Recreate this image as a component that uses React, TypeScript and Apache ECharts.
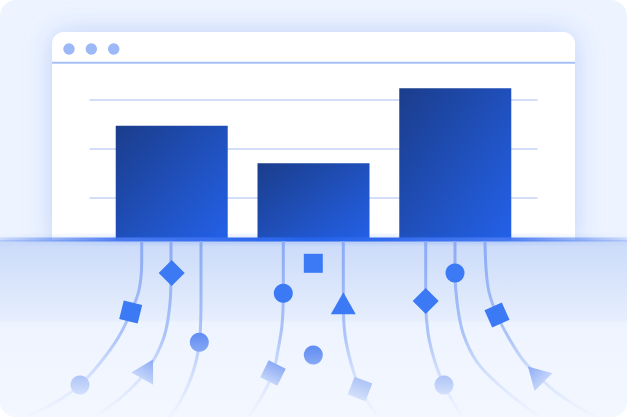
import React, { useRef, useEffect } from 'react';
import * as echarts from 'echarts';

// bar chart inside the browser window
const barCategories = ['A', 'B', 'C'];
const barValues = [2.47, 1.7, 3.24];
const yMax = 3;
const yInterval = 1;

// flow lines under the baseline, [x, y] in page pixels
const flowLines: number[][][] = [
  [[141.7, 241], [141.7, 262], [139, 290], [131, 312], [118, 338], [100, 363], [80, 385], [56, 402], [28, 416]],
  [[171, 241], [171, 273], [170, 303], [164, 337], [148, 369], [124, 395], [96, 416]],
  [[201, 241], [201, 300], [199.5, 342], [193, 372], [181, 400], [169, 418]],
  [[283.3, 241], [283.3, 293], [282, 325], [278, 350], [273, 373], [262, 396], [249, 416]],
  [[313.3, 241], [313.3, 418]],
  [[343.3, 241], [343.3, 303], [345, 335], [351, 363], [360, 389], [377, 415]],
  [[425.7, 241], [425.7, 301], [428, 333], [435, 362], [444, 385], [453, 402], [462, 416]],
  [[455, 241], [455, 273], [457, 302], [463, 333], [477, 362], [500, 386], [538, 416]],
  [[485, 241], [486, 268], [489, 292], [497, 315], [510, 340], [523, 360], [536, 374], [557, 393], [595, 417]],
];

// markers: x, y, rotate, tone
const squareMarkers: [number, number, number, string][] = [
  [130.7, 312, -14, 'solid'],
  [313.3, 263.3, 0, 'solid'],
  [497, 315, 24, 'solid'],
  [273, 373, -26, 'soft'],
  [360, 389, -21, 'faint'],
];
const diamondMarkers: [number, number, number, string][] = [
  [171.7, 273, 0, 'solid'],
  [425.7, 301, 0, 'solid'],
];
const circleMarkers: [number, number, number, string][] = [
  [283.3, 293.3, 0, 'solid'],
  [455, 273, 0, 'solid'],
  [199.3, 342.3, 0, 'mid'],
  [313.3, 355, 0, 'mid'],
  [444, 385, 0, 'faint'],
  [80, 385, 0, 'faint'],
];
const triangleMarkers: [number, number, number, string][] = [
  [343.3, 303.3, 0, 'solid'],
  [147.6, 369, -29, 'soft'],
  [535.7, 374.3, 45, 'soft'],
];

const tones: Record<string, [string, string]> = {
  solid: ['#3b7af4', '#3b7af4'],
  mid: ['#5f8cf3', '#87a8f5'],
  soft: ['#8caaf5', '#c4d5fa'],
  faint: ['#aec4f7', '#d3e0fb'],
};

const windowDots = [69, 91.3, 113.7];

const vGrad = (c: [string, string]) =>
  new echarts.graphic.LinearGradient(0, 0, 0, 1, [
    { offset: 0, color: c[0] },
    { offset: 1, color: c[1] },
  ]);

const markerSeries = (
  list: [number, number, number, string][],
  symbol: string,
  size: number | number[]
) => ({
  type: 'scatter',
  xAxisIndex: 1,
  yAxisIndex: 1,
  z: 13,
  symbol,
  silent: true,
  data: list.map(([x, y, rot, tone]) => ({
    value: [x, y],
    symbolSize: size,
    symbolRotate: rot,
    itemStyle: { color: vGrad(tones[tone]), opacity: 1 },
  })),
});

export default function App() {
  const chartRef = useRef<HTMLDivElement>(null);

  useEffect(() => {
    if (!chartRef.current) return;
    document.body.style.margin = '0';
    const chart = echarts.init(chartRef.current, null, { renderer: 'svg' });

    const lineSeries = flowLines.map((pts) => ({
      type: 'line',
      xAxisIndex: 1,
      yAxisIndex: 1,
      z: 12,
      smooth: 0.35,
      showSymbol: false,
      silent: true,
      data: pts,
      lineStyle: {
        width: 3,
        color: new echarts.graphic.LinearGradient(0, 0, 0, 1, [
          { offset: 0, color: 'rgba(137,168,245,0.95)' },
          { offset: 0.55, color: 'rgba(150,180,247,0.75)' },
          { offset: 1, color: 'rgba(190,210,250,0.05)' },
        ]),
      },
    }));

    const option: echarts.EChartsOption = {
      animation: false,
      graphic: [
        {
          type: 'rect',
          z: 0,
          shape: { x: 0, y: 0, width: 627, height: 417, r: 16 },
          style: { fill: '#eef4ff' },
        },
        {
          type: 'rect',
          z: 1,
          shape: { x: 52, y: 32, width: 523, height: 214, r: [12, 12, 0, 0] },
          style: { fill: '#ffffff', shadowBlur: 28, shadowColor: 'rgba(64,116,236,0.28)' },
        },
        {
          type: 'line',
          z: 2,
          shape: { x1: 52, y1: 62.7, x2: 575, y2: 62.7 },
          style: { stroke: '#a6bff6', lineWidth: 2 },
        },
        ...windowDots.map((cx) => ({
          type: 'circle',
          z: 2,
          shape: { cx, cy: 49, r: 5.7 },
          style: { fill: '#9db8f6' },
        })),
        {
          type: 'rect',
          z: 10,
          shape: { x: 0, y: 240, width: 627, height: 177, r: [0, 0, 16, 16] },
          style: {
            fill: new echarts.graphic.LinearGradient(0, 0, 0, 1, [
              { offset: 0, color: '#cadaf9' },
              { offset: 0.45, color: '#e6eefd' },
              { offset: 0.47, color: '#eef4ff' },
              { offset: 1, color: '#f3f7ff' },
            ]),
          },
        },
        {
          type: 'rect',
          z: 11,
          shape: { x: 0, y: 237.5, width: 627, height: 4 },
          style: {
            fill: new echarts.graphic.LinearGradient(0, 0, 1, 0, [
              { offset: 0, color: 'rgba(80,125,240,0.2)' },
              { offset: 0.2, color: '#4679f1' },
              { offset: 0.5, color: '#2563eb' },
              { offset: 0.8, color: '#4679f1' },
              { offset: 1, color: 'rgba(80,125,240,0.2)' },
            ]),
            shadowBlur: 6,
            shadowColor: 'rgba(37,99,235,0.3)',
          },
        },
      ] as any,
      grid: [
        { left: 89.5, top: 100, width: 448, height: 146 },
        { left: 0, top: 0, width: 632, height: 420 },
      ],
      xAxis: [
        { type: 'value', gridIndex: 0, min: -0.58, max: 2.58, show: false },
        { type: 'value', gridIndex: 1, min: 0, max: 632, show: false },
      ],
      yAxis: [
        {
          type: 'value',
          gridIndex: 0,
          min: 0,
          max: yMax,
          interval: yInterval,
          z: 3,
          axisLine: { show: false },
          axisTick: { show: false },
          axisLabel: { show: false },
          splitLine: { lineStyle: { color: '#d3dff8', width: 2 } },
        },
        { type: 'value', gridIndex: 1, min: 0, max: 420, inverse: true, show: false },
      ],
      series: [
        {
          type: 'bar',
          name: 'bars',
          xAxisIndex: 0,
          yAxisIndex: 0,
          z: 4,
          clip: false,
          barWidth: 112,
          silent: true,
          data: barValues.map((v, i) => ({ value: [i, v], name: barCategories[i] })),
          itemStyle: {
            color: new echarts.graphic.LinearGradient(0, 0, 1, 1, [
              { offset: 0, color: '#1b3d8b' },
              { offset: 1, color: '#2462eb' },
            ]),
          },
        },
        ...lineSeries,
        markerSeries(squareMarkers, 'rect', 19),
        markerSeries(diamondMarkers, 'diamond', 26),
        markerSeries(circleMarkers, 'circle', 19),
        markerSeries(triangleMarkers, 'triangle', [25, 22]),
      ] as any,
    };

    chart.setOption(option);
    return () => chart.dispose();
  }, []);

  return <div ref={chartRef} style={{ width: 632, height: 420 }} />;
}
